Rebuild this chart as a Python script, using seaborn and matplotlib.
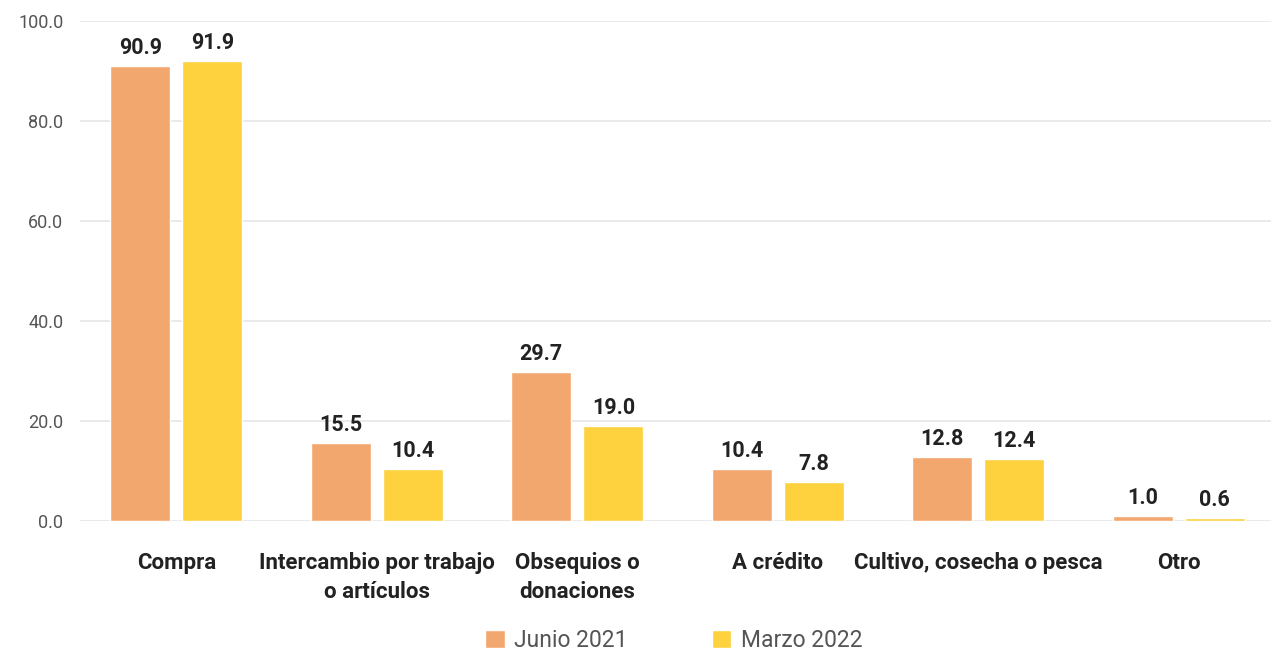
import matplotlib
matplotlib.use("Agg")
import matplotlib.pyplot as plt
import seaborn as sns
import pandas as pd

# Forma de adquisición de alimentos (%)
categorias = [
    "Compra",
    "Intercambio por trabajo\no artículos",
    "Obsequios o\ndonaciones",
    "A crédito",
    "Cultivo, cosecha o pesca",
    "Otro",
]
junio_2021 = [90.9, 15.5, 29.7, 10.4, 12.8, 1.0]
marzo_2022 = [91.9, 10.4, 19.0, 7.8, 12.4, 0.6]
series = ["Junio 2021", "Marzo 2022"]
colores = ["#F2A76E", "#FDD23E"]
yticks = [0, 20, 40, 60, 80, 100]

df = pd.DataFrame({
    "categoria": categorias * 2,
    "valor": junio_2021 + marzo_2022,
    "serie": [series[0]] * len(categorias) + [series[1]] * len(categorias),
})

sns.set_style("white")
plt.rcParams["font.family"] = ["Roboto", "DejaVu Sans"]

fig = plt.figure(figsize=(12.71, 6.52), dpi=100)
ax = fig.add_axes([0.063, 0.201, 0.937, 0.767])

sns.barplot(data=df, x="categoria", y="valor", hue="serie", order=categorias,
            hue_order=series, palette=colores, width=0.72, gap=0.17,
            saturation=1, ax=ax)

for cont in ax.containers:
    ax.bar_label(cont, fmt="%.1f", padding=5, fontsize=15.5, fontweight="bold",
                 color="#222222")

ax.set_ylim(0, 100)
ax.set_xlim(-0.48, 5.46)
ax.set_yticks(yticks)
ax.set_yticklabels([f"{v:.1f}" for v in yticks])
ax.yaxis.grid(True, color="#e6e6e6", linewidth=1.2)
ax.set_axisbelow(True)
for s in ax.spines.values():
    s.set_visible(False)

ax.set_xlabel("")
ax.set_ylabel("")
ax.tick_params(axis="y", length=0, pad=12, labelsize=13, labelcolor="#555555")
ax.tick_params(axis="x", length=0, pad=22, labelsize=16)
for lab in ax.get_xticklabels():
    lab.set_fontweight("bold")
    lab.set_color("#222222")
    lab.set_linespacing(1.45)

handles, labels = ax.get_legend_handles_labels()
ax.get_legend().remove()
fig.legend(handles, labels, loc="center", bbox_to_anchor=(0.53, 0.018),
           ncol=2, frameon=False, fontsize=16.5, labelcolor="#555555",
           handlelength=0.85, handleheight=0.85, handletextpad=0.4,
           columnspacing=3.7)

fig.savefig("out.png", dpi=100, facecolor="white")
